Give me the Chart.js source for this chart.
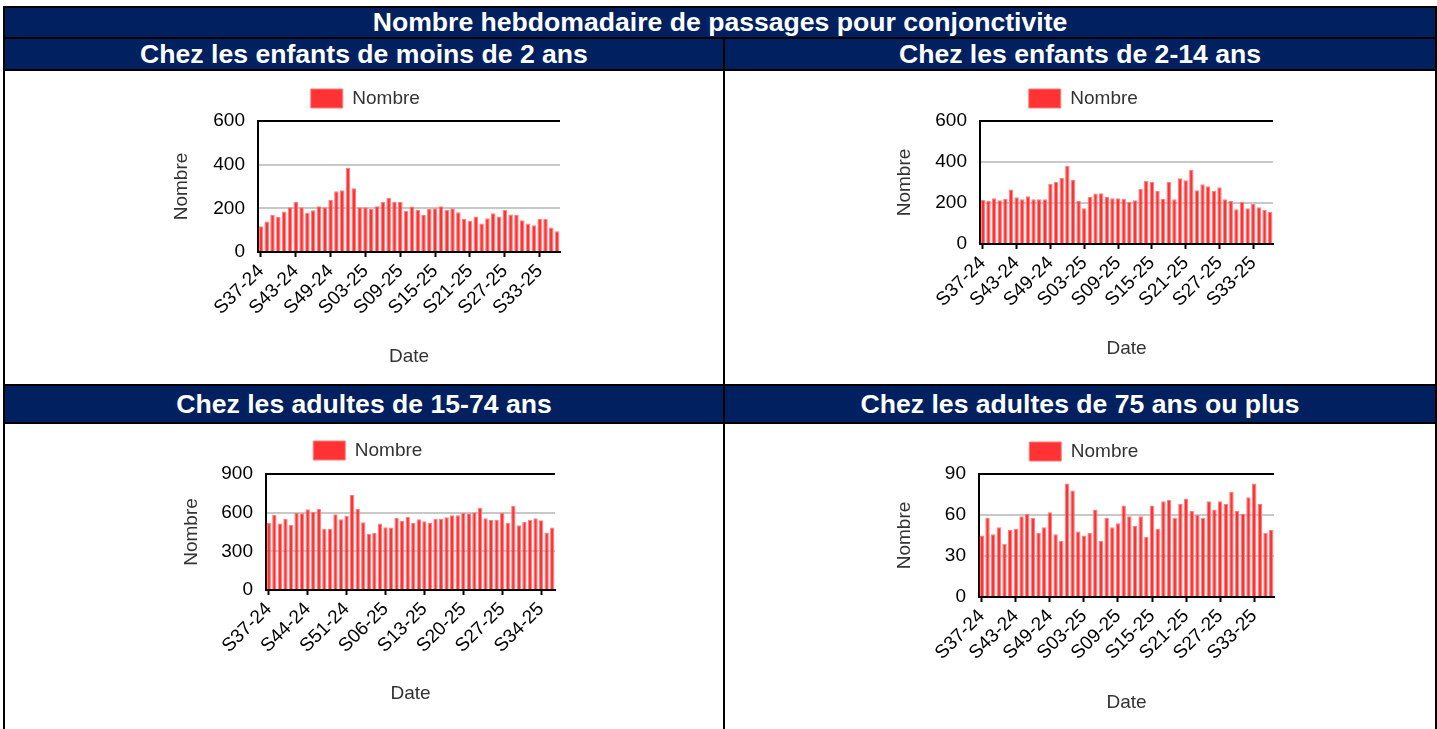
<!DOCTYPE html>
<html lang="fr">
<head>
<meta charset="utf-8">
<title>Passages pour conjonctivite</title>
<script src="https://cdn.jsdelivr.net/npm/chart.js@4.4.1/dist/chart.umd.min.js"></script>
<style>
  html, body { margin: 0; padding: 0; background: #fff; overflow: hidden; }
  body { width: 1437px; height: 729px; position: relative; font-family: 'Liberation Sans', Arial, sans-serif; }
  .frame { position: absolute; left: 3px; top: 6px; width: 1434px; height: 740px; background: #000; }
  .head { position: absolute; background: #002060; color: #fff; font-weight: bold; font-size: 26.6px; text-align: center; white-space: nowrap; }
  .cell { position: absolute; background: #fff; }
  .cell canvas { display: block; }
</style>
</head>
<body>
<div class="frame"></div>
<div class="head" style="left:5px;top:8px;width:1430px;height:29px;line-height:29px;">Nombre hebdomadaire de passages pour conjonctivite</div>

<div class="head" style="left:5px;top:39px;width:718px;height:30px;line-height:31px;">Chez les enfants de moins de 2 ans</div>
<div class="head" style="left:725px;top:39px;width:710px;height:30px;line-height:31px;">Chez les enfants de 2-14 ans</div>
<div class="cell" style="left:5px;top:71px;width:718px;height:313px;"><canvas id="chartMoins2"></canvas></div>
<div class="cell" style="left:725px;top:71px;width:710px;height:313px;"><canvas id="chart2a14"></canvas></div>

<div class="head" style="left:5px;top:386px;width:718px;height:36px;line-height:36px;">Chez les adultes de 15-74 ans</div>
<div class="head" style="left:725px;top:386px;width:710px;height:36px;line-height:36px;">Chez les adultes de 75 ans ou plus</div>
<div class="cell" style="left:5px;top:424px;width:718px;height:313px;"><canvas id="chart15a74"></canvas></div>
<div class="cell" style="left:725px;top:424px;width:710px;height:313px;"><canvas id="chart75plus"></canvas></div>

<script>
// semaines S37-24 .. S36-25
const weeks = [
    'S37-24', 'S38-24', 'S39-24', 'S40-24', 'S41-24', 'S42-24', 'S43-24', 'S44-24', 'S45-24', 'S46-24',
    'S47-24', 'S48-24', 'S49-24', 'S50-24', 'S51-24', 'S52-24', 'S01-25', 'S02-25', 'S03-25', 'S04-25',
    'S05-25', 'S06-25', 'S07-25', 'S08-25', 'S09-25', 'S10-25', 'S11-25', 'S12-25', 'S13-25', 'S14-25',
    'S15-25', 'S16-25', 'S17-25', 'S18-25', 'S19-25', 'S20-25', 'S21-25', 'S22-25', 'S23-25', 'S24-25',
    'S25-25', 'S26-25', 'S27-25', 'S28-25', 'S29-25', 'S30-25', 'S31-25', 'S32-25', 'S33-25', 'S34-25',
    'S35-25', 'S36-25'
];

const moins2 = [
    118, 140, 169, 160, 185, 205, 229, 205, 180, 191,
    209, 205, 238, 278, 283, 386, 292, 205, 205, 197,
    209, 229, 249, 229, 229, 189, 208, 194, 169, 197,
    200, 209, 194, 200, 182, 152, 143, 163, 131, 155,
    177, 163, 192, 172, 169, 145, 131, 122, 152, 152,
    112, 95
];
const de2a14 = [
    216, 211, 223, 213, 220, 266, 228, 218, 233, 218,
    218, 218, 293, 302, 323, 382, 313, 210, 174, 231,
    246, 248, 231, 223, 223, 221, 205, 213, 270, 308,
    302, 259, 220, 302, 218, 321, 311, 362, 262, 292,
    282, 259, 277, 218, 210, 170, 205, 175, 195, 179,
    166, 157
];
const de15a74 = [
    522, 582, 515, 551, 507, 600, 595, 626, 608, 628,
    476, 473, 587, 548, 574, 737, 631, 525, 434, 442,
    515, 486, 484, 559, 538, 569, 522, 548, 533, 522,
    553, 553, 564, 579, 579, 600, 595, 603, 639, 556,
    543, 546, 600, 522, 654, 502, 528, 546, 556, 541,
    447, 484
];
const plus75 = [
    45, 58, 46, 51, 39, 49, 50, 59, 61, 58,
    47, 51, 62, 46, 41, 83, 78, 48, 45, 47,
    64, 41, 58, 51, 54, 67, 59, 52, 59, 44,
    67, 50, 70, 71, 58, 68, 72, 63, 60, 58,
    70, 64, 70, 68, 77, 63, 61, 73, 83, 68,
    47, 49
];

Chart.defaults.font.family = "'Liberation Sans', Arial, sans-serif";
Chart.defaults.font.size = 19;
Chart.defaults.color = '#000';

// extra space between the legend and the plot
function legendGap(gap) {
    return {
        id: 'legendGap',
        beforeInit(chart) {
            const fit = chart.legend.fit;
            chart.legend.fit = function () {
                fit.call(this);
                this.height += gap;
            };
        },
    };
}

function makeBarChart(canvasId, values, yMax, yStep, labelEvery, frame) {
    const data = {
        labels: weeks,
        datasets: [
            {
                label: 'Nombre',
                data: values,
                backgroundColor: '#ff3333',
                borderColor: '#ff7c7c',
                borderWidth: 1,
                barPercentage: 0.78,
                categoryPercentage: 1,
            },
        ],
    };
    const config = {
        type: 'bar',
        data: data,
        plugins: [legendGap(frame.gap)],
        options: {
            responsive: true,
            maintainAspectRatio: false,
            animation: false,
            layout: {
                padding: { left: frame.left, right: frame.right, top: frame.top, bottom: frame.bottom }
            },
            plugins: {
                legend: {
                    position: 'top',
                    labels: { boxWidth: 32, boxHeight: 19, padding: 4, color: '#333' }
                },
                tooltip: { enabled: false },
            },
            scales: {
                x: {
                    offset: true,
                    grid: { offset: false, drawOnChartArea: false, drawTicks: true, tickLength: 5, tickWidth: 2, tickColor: '#000' },
                    border: { display: true, color: '#000', width: 2 },
                    ticks: { autoSkip: false, minRotation: 45, maxRotation: 45, padding: 3, color: '#000' },
                    title: { display: true, text: 'Date', color: '#333', padding: 0 },
                    afterBuildTicks: scale => {
                        // one label every few weeks
                        scale.ticks = scale.ticks.filter(t => t.value % labelEvery === 0);
                    },
                    afterFit: scale => { scale.height = frame.xHeight; },
                },
                y: {
                    min: 0,
                    max: yMax,
                    grid: {
                        drawTicks: false,
                        lineWidth: 2,
                        color: ctx => ctx.tick && ctx.tick.value === yMax ? '#000' : '#c8c8c8',
                    },
                    border: { display: true, color: '#000', width: 2 },
                    ticks: { stepSize: yStep, padding: 13, color: '#000' },
                    title: { display: true, text: 'Nombre', color: '#333', padding: 0 },
                    afterFit: scale => { scale.width = frame.yWidth; },
                },
            },
        },
    };
    return new Chart(document.getElementById(canvasId), config);
}

const chartMoins2 = makeBarChart('chartMoins2', moins2, 600, 200, 6,
    { left: 165.6, right: 163, top: 14, gap: 3, bottom: 15.5, yWidth: 87.4, xHeight: 116.5 });
const chart2a14 = makeBarChart('chart2a14', de2a14, 600, 200, 6,
    { left: 168.6, right: 162, top: 14, gap: 3, bottom: 23.6, yWidth: 86.4, xHeight: 116.4 });
const chart15a74 = makeBarChart('chart15a74', de15a74, 900, 300, 7,
    { left: 175.6, right: 168, top: 13, gap: 4, bottom: 31.6, yWidth: 85.4, xHeight: 115.4 });
const chart75plus = makeBarChart('chart75plus', plus75, 90, 30, 6,
    { left: 168.6, right: 161, top: 14, gap: 3, bottom: 22.6, yWidth: 85.4, xHeight: 117.4 });
</script>
</body>
</html>
